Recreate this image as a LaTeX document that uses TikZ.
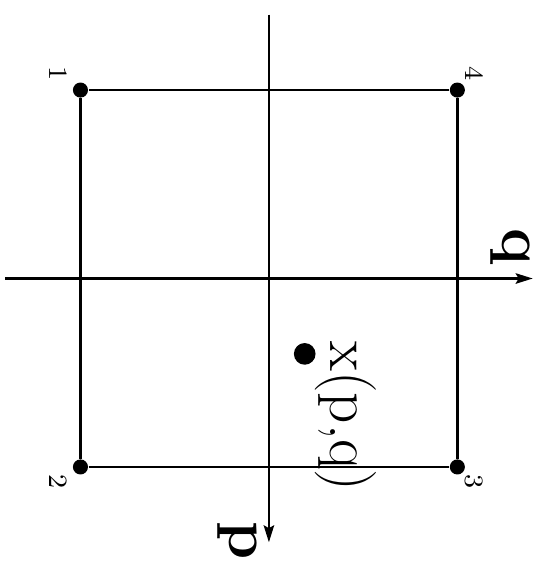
\documentclass[tikz,border=0pt]{standalone}
\usetikzlibrary{arrows.meta}

\begin{document}
\begin{tikzpicture}[
  x=2cm,y=2cm,rotate=-90,transform shape,
  corner/.style={circle,fill,inner sep=0pt,minimum size=1.6mm},
  spot/.style={circle,fill,inner sep=0pt,minimum size=2.3mm},
  lab/.style={font=\footnotesize,inner sep=0pt},
  big/.style={font=\fontsize{18.5pt}{20pt}\selectfont,inner sep=0pt},
  edge/.style={thick},
  axis/.style={thick,-{Stealth[length=1.8mm,width=1.1mm,inset=0.3mm]}}
]
  \useasboundingbox (-1.478,-1.427) rectangle (1.515,1.454);
  % axes
  \coordinate (pstart) at (-1.4,0);
  \coordinate (pend) at (1.4,0);
  \coordinate (qstart) at (0,-1.4);
  \coordinate (qend) at (0,1.4);
  \draw[axis] (pstart) -- (pend);
  \draw[axis] (qstart) -- (qend);
  \node[big] (plab) at (1.39,-0.17) {\bfseries p};
  \node[big] (qlab) at (-0.17,1.28) {\bfseries q};
  % element corners
  \node[corner] (c1) at (-1,-1) {};
  \node[corner] (c2) at (1,-1) {};
  \node[corner] (c3) at (1,1) {};
  \node[corner] (c4) at (-1,1) {};
  \draw[edge] (c1) -- (c2) -- (c3) -- (c4) -- (c1);
  \node[lab] (l1) at (-1.09,-1.12) {1};
  \node[lab] (l2) at (1.08,-1.12) {2};
  \node[lab] (l3) at (1.08,1.09) {3};
  \node[lab] (l4) at (-1.09,1.09) {4};
  % point
  \node[spot] (pt) at (0.40,0.19) {};
  \node[big] (ptlab) at (0.73,0.41) {x(p,q)};
\end{tikzpicture}
\end{document}
